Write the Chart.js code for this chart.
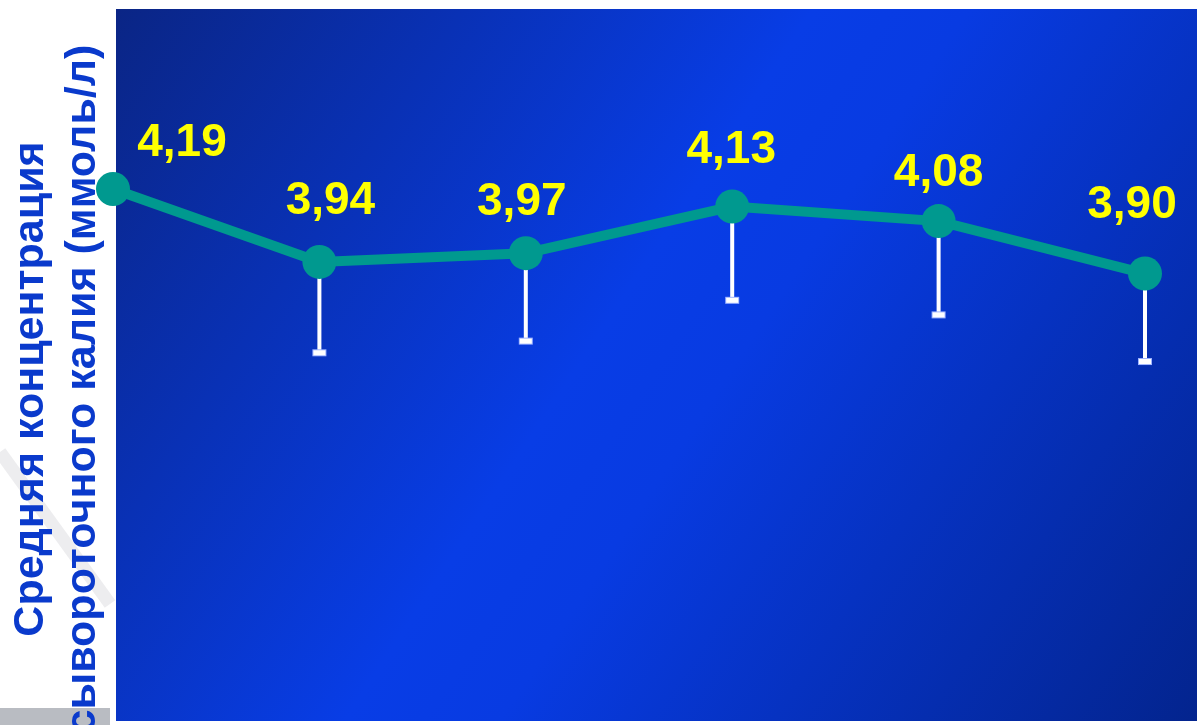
<!DOCTYPE html>
<html>
<head>
<meta charset="utf-8">
<script src="https://cdn.jsdelivr.net/npm/chart.js@4"></script>
<style>
  html, body { margin: 0; padding: 0; background: #ffffff; }
  #wrap { width: 1197px; height: 725px; position: relative; }
</style>
</head>
<body>
<div id="wrap"><canvas id="chart"></canvas></div>
<script>
// visits (not labelled on the slide)
const categories = ["1", "2", "3", "4", "5", "6"];
// mean serum potassium, mmol/l
const means = [4.19, 3.94, 3.97, 4.13, 4.08, 3.90];
// lower error bar length (SD); first one not shown
const sdLow = [null, 0.31, 0.30, 0.32, 0.32, 0.30];
const valueLabels = ["4,19", "3,94", "3,97", "4,13", "4,08", "3,90"];
const yTitleLines = ["Средняя концентрация", "сывороточного калия (ммоль/л)"];

const teal = "#00998f";

// blue slide-like background behind the plot, plus faint slide decoration
const bgPlugin = {
    id: "bg",
    beforeDraw(chart) {
        const ctx = chart.ctx;
        ctx.save();
        // faint grey swoosh of the slide template
        ctx.strokeStyle = "#ededef";
        ctx.lineWidth = 13;
        ctx.beginPath();
        ctx.moveTo(0, 452);
        ctx.lineTo(110, 604);
        ctx.stroke();
        ctx.fillStyle = "#b9bcc2";
        ctx.fillRect(0, 708, 110, 17);

        const l = 116, t = 9, r = chart.width, b = 721;
        const g = ctx.createLinearGradient(l, t, r, b);
        g.addColorStop(0, "#0a2585");
        g.addColorStop(0.45, "#083de6");
        g.addColorStop(0.55, "#083be2");
        g.addColorStop(1, "#03248e");
        ctx.fillStyle = g;
        ctx.fillRect(l, t, r - l, b - t);
        ctx.restore();
    }
};

// downward-only error bars
const errPlugin = {
    id: "err",
    beforeDatasetsDraw(chart) {
        const ctx = chart.ctx;
        const x = chart.scales.x, y = chart.scales.y;
        ctx.save();
        means.forEach((m, i) => {
            if (sdLow[i] == null) return;
            const px = x.getPixelForValue(i);
            const top = y.getPixelForValue(m);
            const bot = y.getPixelForValue(m - sdLow[i]);
            ctx.fillStyle = "#ffffff";
            ctx.fillRect(px - 2, top, 4, bot - top);
            ctx.fillStyle = "#9fb4ff";
            ctx.fillRect(px - 7, bot - 3, 14, 7);
            ctx.fillStyle = "#ffffff";
            ctx.fillRect(px - 6, bot - 2, 12, 5);
        });
        ctx.restore();
    }
};

// yellow value labels
const labelPlugin = {
    id: "vals",
    afterDatasetsDraw(chart, args, opts) {
        const ctx = chart.ctx;
        const meta = chart.getDatasetMeta(0);
        ctx.save();
        ctx.font = "bold 46px 'Liberation Sans', Arial, sans-serif";
        ctx.fillStyle = "#ffff00";
        ctx.textAlign = "center";
        ctx.textBaseline = "middle";
        meta.data.forEach((pt, i) => {
            ctx.fillText(valueLabels[i], pt.x + opts.dx[i], pt.y + opts.dy[i]);
        });
        ctx.restore();
    }
};

// rotated two-line axis title
const titlePlugin = {
    id: "ytitle",
    afterDraw(chart) {
        const ctx = chart.ctx;
        ctx.save();
        ctx.font = "bold 43px 'Liberation Sans', Arial, sans-serif";
        ctx.fillStyle = "#0a3acc";
        ctx.textAlign = "center";
        ctx.textBaseline = "alphabetic";
        const baseX = [43, 95];
        yTitleLines.forEach((line, i) => {
            ctx.save();
            ctx.translate(baseX[i], 389);
            ctx.rotate(-Math.PI / 2);
            ctx.fillText(line, 0, 0);
            ctx.restore();
        });
        ctx.restore();
    }
};

new Chart(document.getElementById("chart"), {
    type: "line",
    data: {
        labels: categories,
        datasets: [{
            data: means,
            borderColor: teal,
            backgroundColor: teal,
            borderWidth: 10,
            pointRadius: 17,
            pointHoverRadius: 17,
            pointBackgroundColor: teal,
            pointBorderWidth: 0,
            tension: 0,
            clip: false
        }]
    },
    options: {
        responsive: true,
        maintainAspectRatio: false,
        animation: false,
        events: [],
        layout: { padding: { left: 113, right: 52, top: 9, bottom: 4 } },
        scales: {
            x: { type: "category", offset: false, display: false },
            y: { min: 2.41, max: 4.78, display: false }
        },
        plugins: {
            legend: { display: false },
            tooltip: { enabled: false },
            vals: {
                dx: [69, 11, -4, -1, 0, -13],
                dy: [-46, -61, -51, -56, -48, -68]
            }
        }
    },
    plugins: [bgPlugin, errPlugin, labelPlugin, titlePlugin]
});
</script>
</body>
</html>
